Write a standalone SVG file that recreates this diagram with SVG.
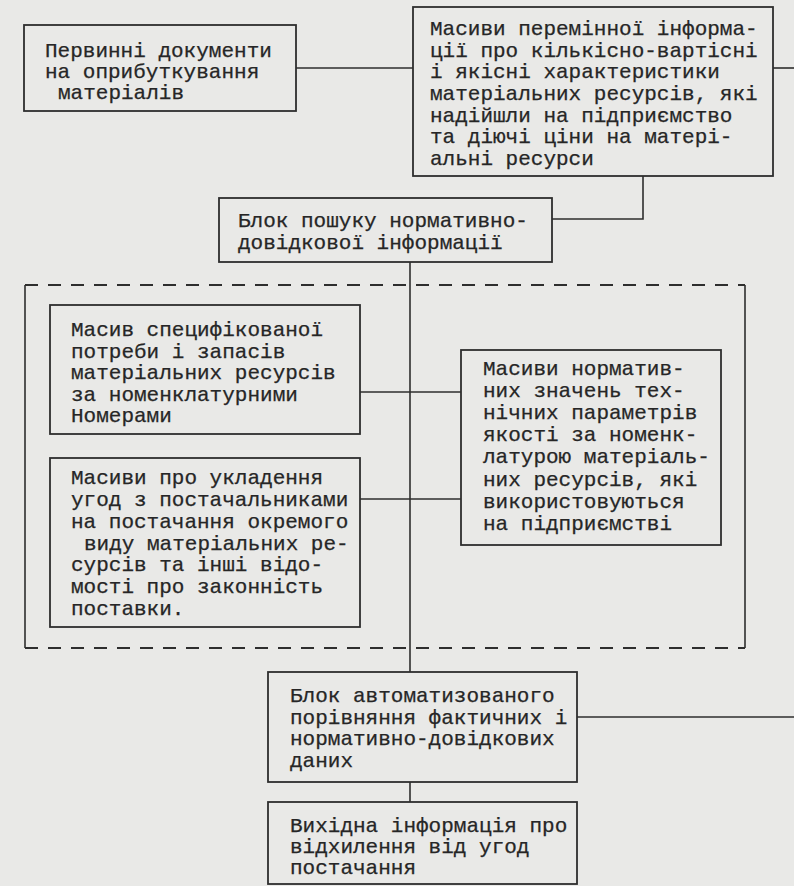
<svg xmlns="http://www.w3.org/2000/svg" width="794" height="886" viewBox="0 0 794 886">
<style>
.bg{fill:#e9e9e7}
.box{fill:none;stroke:#2e2e2e;stroke-width:1.8}
.ln{fill:none;stroke:#2e2e2e;stroke-width:1.6}
.dash{fill:none;stroke:#2e2e2e;stroke-width:1.8;stroke-dasharray:13 10}
text{font-family:"Liberation Mono","DejaVu Sans Mono",monospace;font-size:21px;fill:#262626;stroke:#262626;stroke-width:0.25}
</style>
<rect class="bg" x="0" y="0" width="794" height="886"/>
<g id="connectors">
<polyline class="ln" points="296,68 413,68"/>
<polyline class="ln" points="773,68 794,68"/>
<polyline class="ln" points="643,176 643,219 552,219"/>
<polyline class="ln" points="410,262 410,672"/>
<polyline class="ln" points="360,392 461,392"/>
<polyline class="ln" points="360,499 461,499"/>
<polyline class="ln" points="410,782 410,802"/>
<polyline class="ln" points="577,717 794,717"/>
</g>
<g id="group-frame">
<line class="dash" x1="25" y1="285" x2="745" y2="285"/>
<line class="dash" x1="25" y1="648" x2="745" y2="648"/>
<line class="ln" x1="25" y1="285" x2="25" y2="648"/>
<line class="ln" x1="745" y1="285" x2="745" y2="648"/>
</g>
<g id="primary-docs">
<rect class="box" x="24" y="25" width="272" height="86"/>
<text x="45" y="57">Первинні документи</text>
<text x="45" y="78">на оприбуткування</text>
<text x="58" y="99">матеріалів</text>
</g>
<g id="variable-info">
<rect class="box" x="413" y="7" width="360" height="169"/>
<text x="430" y="35">Масиви перемінної інформа-</text>
<text x="430" y="56.7">ції про кількісно-вартісні</text>
<text x="430" y="78.3">і якісні характеристики</text>
<text x="430" y="100">матеріальних ресурсів, які</text>
<text x="430" y="121.7">надійшли на підприємство</text>
<text x="430" y="143.3">та діючі ціни на матері-</text>
<text x="430" y="165">альні ресурси</text>
</g>
<g id="search-block">
<rect class="box" x="219" y="198" width="333" height="64"/>
<text x="238" y="227">Блок пошуку нормативно-</text>
<text x="238" y="249">довідкової інформації</text>
</g>
<g id="spec-needs">
<rect class="box" x="50" y="305" width="310" height="129"/>
<text x="71" y="336">Масив специфікованої</text>
<text x="71" y="357.5">потреби і запасів</text>
<text x="71" y="379">матеріальних ресурсів</text>
<text x="71" y="400.5">за номенклатурними</text>
<text x="71" y="422">Номерами</text>
</g>
<g id="contracts">
<rect class="box" x="50" y="458" width="310" height="169"/>
<text x="71" y="484">Масиви про укладення</text>
<text x="71" y="505.8">угод з постачальниками</text>
<text x="71" y="527.7">на постачання окремого</text>
<text x="84" y="549.5">виду матеріальних ре-</text>
<text x="71" y="571.3">сурсів та інші відо-</text>
<text x="71" y="593.2">мості про законність</text>
<text x="71" y="615">поставки.</text>
</g>
<g id="norm-values">
<rect class="box" x="461" y="350" width="260" height="195"/>
<text x="483" y="375">Масиви норматив-</text>
<text x="483" y="397">них значень тех-</text>
<text x="483" y="419">нічних параметрів</text>
<text x="483" y="441">якості за номенк-</text>
<text x="483" y="463">латурою матеріаль-</text>
<text x="483" y="486">них ресурсів, які</text>
<text x="483" y="508">використовуються</text>
<text x="483" y="530">на підприємстві</text>
</g>
<g id="compare-block">
<rect class="box" x="268" y="672" width="309" height="110"/>
<text x="290" y="702">Блок автоматизованого</text>
<text x="290" y="723.7">порівняння фактичних і</text>
<text x="290" y="745.3">нормативно-довідкових</text>
<text x="290" y="767">даних</text>
</g>
<g id="output-info">
<rect class="box" x="268" y="802" width="309" height="82"/>
<text x="290" y="832">Вихідна інформація про</text>
<text x="290" y="853">відхилення від угод</text>
<text x="290" y="874">постачання</text>
</g>
</svg>
